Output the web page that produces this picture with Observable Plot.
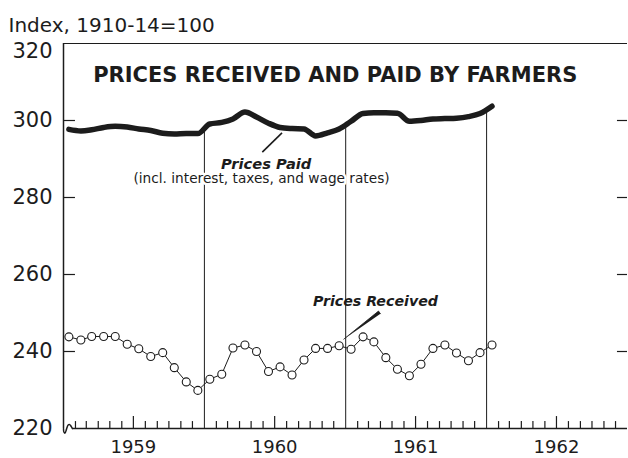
<!DOCTYPE html>
<html>
<head>
<meta charset="utf-8">
<script src="https://cdn.jsdelivr.net/npm/d3@7"></script>
<script src="https://cdn.jsdelivr.net/npm/@observablehq/plot@0.6"></script>
<style>
  body { margin: 0; background: #fff; }
  #chart svg { display: block; }
</style>
</head>
<body>
<div id="chart"></div>
<script>
// ---- data (monthly, Jan 1959 – Jan 1962) ----
const months = [
  "1959-01","1959-02","1959-03","1959-04","1959-05","1959-06","1959-07","1959-08","1959-09","1959-10","1959-11","1959-12",
  "1960-01","1960-02","1960-03","1960-04","1960-05","1960-06","1960-07","1960-08","1960-09","1960-10","1960-11","1960-12",
  "1961-01","1961-02","1961-03","1961-04","1961-05","1961-06","1961-07","1961-08","1961-09","1961-10","1961-11","1961-12",
  "1962-01"
];
const pricesReceived = [
  243.8, 243.0, 243.9, 243.9, 243.9, 241.9, 240.7, 238.7, 239.7, 235.8, 232.1, 229.9,
  232.8, 234.1, 240.9, 241.7, 240.0, 234.8, 236.0, 233.9, 237.8, 240.8, 240.8, 241.5,
  240.6, 243.8, 242.5, 238.4, 235.4, 233.7, 236.7, 240.8, 241.7, 239.6, 237.6, 239.7,
  241.7
];
const pricesPaid = [
  297.7, 297.3, 297.6, 298.2, 298.5, 298.3, 297.8, 297.4, 296.7, 296.5, 296.6, 296.6,
  299.1, 299.5, 300.4, 302.2, 300.9, 299.3, 298.2, 297.9, 297.8, 296.0, 296.8, 297.8,
  299.8, 301.8, 302.0, 302.0, 301.9, 299.8, 300.0, 300.4, 300.5, 300.6, 301.0, 301.8,
  303.7
];
const yTickValues = [220, 240, 260, 280, 300];
const yTopTick = [320];
const innerTicks = [240, 260, 280, 300];
const yearLabels = ["1959", "1960", "1961", "1962"];
const yearBreaks = ["1960", "1961", "1962"];
const titleText = "PRICES RECEIVED AND PAID BY FARMERS";
const unitText = "Index, 1910-14=100";
const paidLabel = "Prices Paid";
const paidNote = "(incl. interest, taxes, and wage rates)";
const receivedLabel = "Prices Received";

// ---- tables ----
const D = (y, m, d) => new Date(Date.UTC(y, m - 1, d));
const rows = months.map((m, i) => {
  const [y, mo] = m.split("-").map(Number);
  return { date: D(y, mo, 15), received: pricesReceived[i], paid: pricesPaid[i] };
});
const xStart = D(1959, 1, 1), xEnd = D(1963, 1, 1);
const monthTicks = d3.utcMonth.range(D(1959, 2, 1), xEnd)
  .filter(d => d.getUTCMonth() !== 0)
  .map(d => ({ date: d, major: d.getUTCMonth() === 6 }));
const yearMid = yearLabels.map(y => D(+y, 7, 1));
const breaks = yearBreaks.map(y => {
  const i = months.indexOf(y + "-01");
  return { date: D(+y, 1, 1), top: (pricesPaid[i - 1] + pricesPaid[i]) / 2 };
});
// axis break squiggle at lower-left corner (days after Jan 1 1959, value)
const squiggle = [[0,220],[1,219.1],[4,218.8],[8,219.9],[12,220.9],[16,221.0],[19.5,220.6],[23,220]]
  .map(([d, v]) => ({ date: new Date(+xStart + d * 864e5), v }));
const wedge = [
  { date: D(1960, 12, 27), v: 243.2 },
  { date: D(1961, 3, 27), v: 250.5 },
  { date: D(1961, 4, 1), v: 249.8 }
];

const ink = "#1c1c1c";

const chart = Plot.plot({
  width: 628,
  height: 458,
  marginLeft: 63,
  marginRight: 1,
  marginTop: 43,
  marginBottom: 30,
  style: { fontFamily: "DejaVu Sans", fontSize: "21px", color: ink, background: "white", overflow: "visible" },
  x: { type: "utc", domain: [xStart, xEnd], axis: null },
  y: { domain: [220, 320], axis: null },
  marks: [
    // frame: top and left
    Plot.ruleY([320], { x1: xStart, x2: xEnd, stroke: ink, strokeWidth: 1.2 }),
    Plot.ruleX([xStart], { y1: 220, y2: 320, stroke: ink, strokeWidth: 1.5 }),
    // bottom axis line + break squiggle
    Plot.ruleY([220], { x1: squiggle[squiggle.length - 1].date, x2: xEnd, stroke: ink, strokeWidth: 1.5 }),
    Plot.line(squiggle, { x: "date", y: "v", stroke: ink, strokeWidth: 1.5, curve: "catmull-rom" }),
    // monthly ticks
    Plot.ruleX(monthTicks, { x: "date", y1: 220, y2: d => d.major ? 223.1 : 221.8, stroke: ink, strokeWidth: 1.2 }),
    // inner y ticks (left and right)
    Plot.ruleY(innerTicks, { x1: xStart, x2: D(1959, 2, 1), stroke: ink, strokeWidth: 1.2 }),
    Plot.ruleY(innerTicks, { x1: D(1962, 12, 6), x2: xEnd, stroke: ink, strokeWidth: 1.2 }),
    // year break verticals
    Plot.ruleX(breaks, { x: "date", y1: 220, y2: "top", stroke: ink, strokeWidth: 1 }),
    // axes
    Plot.axisY(yTickValues, { tickSize: 0, tickPadding: 11, fontSize: 21, label: null }),
    Plot.text(yTopTick, { y: d => d, frameAnchor: "left", textAnchor: "end", dx: -11, dy: 8, fontSize: 21, fill: ink }),
    Plot.axisX(yearMid, { tickSize: 0, tickPadding: 12, tickFormat: d3.utcFormat("%Y"), fontSize: 18, label: null }),
    // series
    Plot.line(rows, { x: "date", y: "paid", stroke: ink, strokeWidth: 5.5, curve: "monotone-x", strokeLinejoin: "round", strokeLinecap: "round" }),
    Plot.line(rows, { x: "date", y: "received", stroke: ink, strokeWidth: 1 }),
    Plot.dot(rows, { x: "date", y: "received", r: 4, fill: "white", stroke: ink, strokeWidth: 1.1 }),
    // annotations
    Plot.text([unitText], { frameAnchor: "top-left", textAnchor: "start", lineAnchor: "bottom", dx: -55, dy: -12, fontSize: 20, fill: ink }),
    Plot.text([titleText], { x: D(1960, 12, 5), y: 310, textAnchor: "middle", lineAnchor: "bottom", fontSize: 21, fontWeight: "bold", fill: ink }),
    Plot.text([paidLabel], { x: D(1960, 6, 9), y: 287.5, textAnchor: "middle", lineAnchor: "bottom", fontSize: 14.7, fontWeight: "bold", fontStyle: "italic", fill: ink }),
    Plot.text([paidNote], { x: D(1960, 5, 28), y: 283.75, textAnchor: "middle", lineAnchor: "bottom", fontSize: 13.7, fill: ink, stroke: "white", strokeWidth: 5 }),
    Plot.text([receivedLabel], { x: D(1961, 3, 19), y: 251.9, textAnchor: "middle", lineAnchor: "bottom", fontSize: 14.2, fontWeight: "bold", fontStyle: "italic", fill: ink }),
    Plot.link([0], { x1: D(1960, 5, 30), y1: 291.8, x2: D(1960, 7, 20), y2: 296.8, stroke: ink, strokeWidth: 1.6 }),
    Plot.line(wedge, { x: "date", y: "v", stroke: ink, strokeWidth: 0.8, fill: ink })
  ]
});
document.getElementById("chart").appendChild(chart);
</script>
</body>
</html>
